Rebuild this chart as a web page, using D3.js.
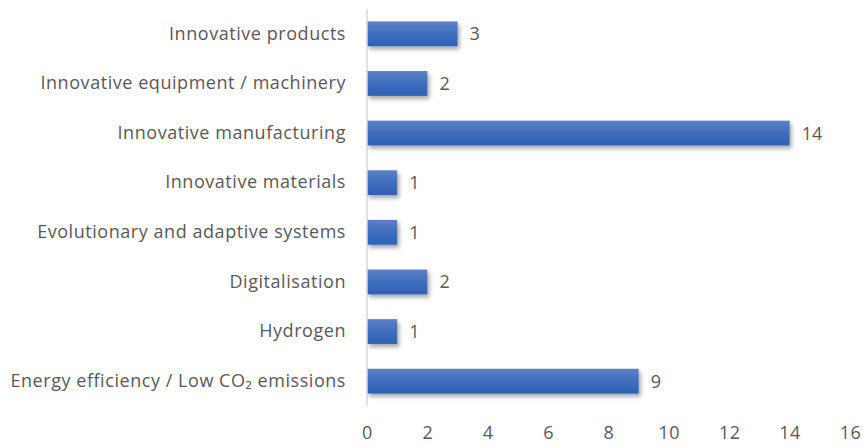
<!DOCTYPE html>
<html><head><meta charset="utf-8">
<script src="https://cdn.jsdelivr.net/npm/d3@7"></script>
<style>body{margin:0;background:#fff}svg{display:block}text{font-family:"Open Sans",sans-serif;fill:#595959}</style>
</head><body><svg id="c" width="863" height="446"></svg>
<script>
const categories = ["Innovative products","Innovative equipment / machinery","Innovative manufacturing","Innovative materials","Evolutionary and adaptive systems","Digitalisation","Hydrogen","Energy efficiency / Low CO\u2082 emissions"];
const values = [3,2,14,1,1,2,1,9];
const xTicks = [0,2,4,6,8,10,12,14,16];

const svg = d3.select("#c");
const x = d3.scaleLinear().domain([0,16]).range([367,850]);
const y = d3.scaleBand().domain(categories).range([9,406]).paddingInner(0.5).paddingOuter(0.25);

const defs = svg.append("defs");
const g = defs.append("linearGradient").attr("id","bg").attr("x1",0).attr("y1",0).attr("x2",0).attr("y2",1);
g.append("stop").attr("offset","0%").attr("stop-color","#5a82c8");
g.append("stop").attr("offset","50%").attr("stop-color","#3f6dbd");
g.append("stop").attr("offset","100%").attr("stop-color","#2c62b4");
const f = defs.append("filter").attr("id","sh").attr("x","-10%").attr("y","-30%").attr("width","130%").attr("height","180%");
f.append("feDropShadow").attr("dx",2).attr("dy",3).attr("stdDeviation",2).attr("flood-color","#000").attr("flood-opacity",0.35);

svg.append("g").selectAll("rect").data(values).join("rect")
  .attr("x",x(0)).attr("y",(d,i)=>y(categories[i]))
  .attr("width",d=>x(d)-x(0)).attr("height",y.bandwidth())
  .attr("fill","url(#bg)").attr("filter","url(#sh)");

svg.append("line").attr("x1",x(0)).attr("x2",x(0)).attr("y1",9).attr("y2",406).attr("stroke","#d9d9d9").attr("stroke-width",1.5);

svg.append("g").selectAll("text").data(values).join("text")
  .attr("x",d=>x(d)+12).attr("y",(d,i)=>y(categories[i])+y.bandwidth()/2)
  .attr("dy","0.36em").attr("font-size",18).text(d=>d);

const yAxis = svg.append("g").attr("transform",`translate(${x(0)},0)`).call(d3.axisLeft(y).tickSize(0).tickPadding(21));
yAxis.select(".domain").remove();
yAxis.selectAll("text").attr("font-size",18).attr("fill","#595959").style("font-family","'Open Sans',sans-serif").style("letter-spacing","0.55px");

const xAxis = svg.append("g").attr("transform","translate(0,426)").call(d3.axisBottom(x).tickValues(xTicks).tickSize(0).tickPadding(0));
xAxis.select(".domain").remove();
xAxis.selectAll("text").attr("font-size",18).attr("fill","#595959").style("font-family","'Open Sans',sans-serif").style("letter-spacing","0.5px");
</script></body></html>
